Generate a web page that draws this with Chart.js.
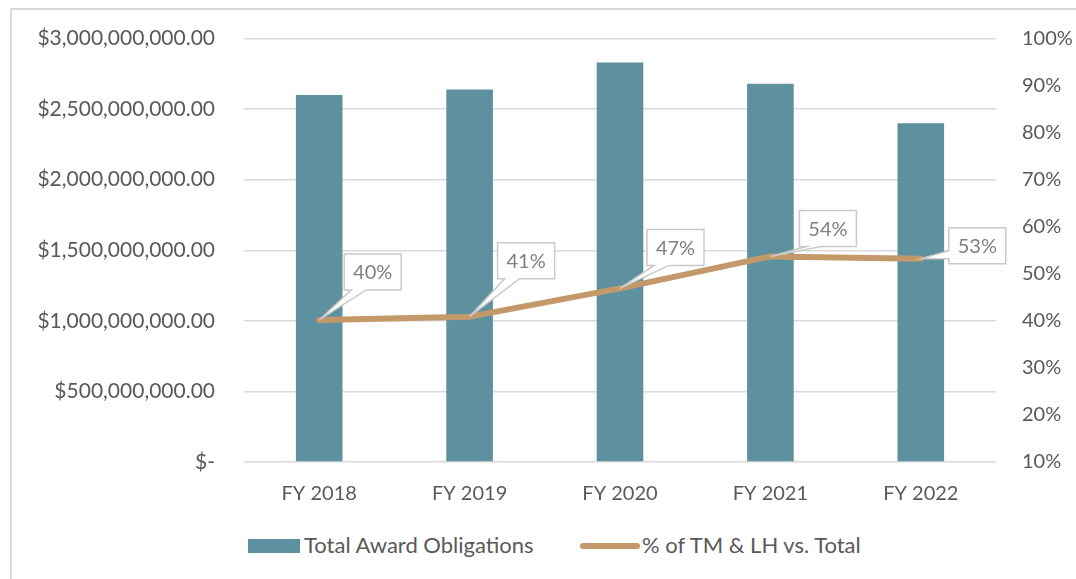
<!DOCTYPE html>
<html>
<head>
<meta charset="utf-8">
<script src="https://cdn.jsdelivr.net/npm/chart.js@4.4.1/dist/chart.umd.min.js"></script>
<style>
    body{margin:0;background:#fff;width:1076px;height:579px;overflow:hidden;position:relative;font-family:Lato,sans-serif;}
    .frame{position:absolute;left:10px;top:8px;width:1100px;height:620px;border-left:2px solid #d9d9d9;border-top:2px solid #d9d9d9;}
    .chart-box{position:absolute;left:12px;top:-3px;width:1064px;height:528px;}
    .legend{position:absolute;top:531px;left:0;width:1076px;height:28px;font-size:22px;color:#595959;}
    .legend .item{position:absolute;top:0;line-height:28px;white-space:nowrap;}
    .legend .sw{display:inline-block;vertical-align:middle;margin-right:4px;}
</style>
</head>
<body>
<div class="frame"></div>
<div class="chart-box"><canvas id="awards"></canvas></div>
<div class="legend">
    <div class="item" style="left:248px"><span class="sw" style="width:52px;height:14px;background:#5E91A0;margin-top:-3px"></span>Total Award Obligations</div>
    <div class="item" style="left:580px"><span class="sw" style="width:60px;height:6px;border-radius:3px;background:#C4996A;margin-top:-3px;margin-right:2px"></span>% of TM &amp; LH vs. Total</div>
</div>
<script>
// values
const categories = ['FY 2018', 'FY 2019', 'FY 2020', 'FY 2021', 'FY 2022'];
const awardObligations = [2600000000, 2640000000, 2830000000, 2680000000, 2400000000];
const pctTmLh = [40.2, 40.9, 46.9, 53.7, 53.2];

const barLabel = 'Total Award Obligations';
const lineLabel = '% of TM & LH vs. Total';

const textColor = '#595959';
const tickFont = {family: 'Lato', size: 20};

// where each callout box sits relative to its point (left edge, bottom edge)
const calloutPos = [[25, -30], [28, -38], [27, -23], [29, -10], [28, 5]];

function money(v){
    if(v === 0) return '$-';
    return '$' + v.toLocaleString('en-US', {minimumFractionDigits: 2, maximumFractionDigits: 2});
}

const callouts = {
    id: 'callouts',
    afterDatasetsDraw(chart){
        const ctx = chart.ctx;
        const meta = chart.getDatasetMeta(1);
        const data = chart.data.datasets[1].data;
        ctx.save();
        ctx.font = '20px Lato';
        meta.data.forEach(function(pt, i){
            const txt = Math.round(data[i]) + '%';
            const w = 57, h = 36;
            const left = pt.x + calloutPos[i][0];
            const bottom = pt.y + calloutPos[i][1];
            const top = bottom - h, right = left + w;
            ctx.beginPath();
            if(bottom < pt.y - 6){
                ctx.moveTo(left, top);
                ctx.lineTo(right, top);
                ctx.lineTo(right, bottom);
                ctx.lineTo(left + 22, bottom);
                ctx.lineTo(pt.x, pt.y);
                ctx.lineTo(left + 7, bottom);
                ctx.lineTo(left, bottom);
            } else {
                ctx.moveTo(left, top);
                ctx.lineTo(right, top);
                ctx.lineTo(right, bottom);
                ctx.lineTo(left, bottom);
                ctx.lineTo(left, bottom - 5);
                ctx.lineTo(pt.x, pt.y);
                ctx.lineTo(left, bottom - 13);
            }
            ctx.closePath();
            ctx.fillStyle = '#ffffff';
            ctx.fill();
            ctx.lineWidth = 1.5;
            ctx.strokeStyle = '#c9c9c9';
            ctx.stroke();
            ctx.fillStyle = '#7f7f7f';
            ctx.textAlign = 'center';
            ctx.textBaseline = 'middle';
            ctx.fillText(txt, left + w / 2, top + h / 2 + 1);
        });
        ctx.restore();
    }
};

const config = {
    data: {
        labels: categories,
        datasets: [
            {
                type: 'bar',
                label: barLabel,
                data: awardObligations,
                backgroundColor: '#5E91A0',
                yAxisID: 'y',
                categoryPercentage: 1,
                barPercentage: 0.31,
                order: 2
            },
            {
                type: 'line',
                label: lineLabel,
                data: pctTmLh,
                borderColor: '#C4996A',
                borderWidth: 6,
                borderCapStyle: 'round',
                borderJoinStyle: 'round',
                pointRadius: 0,
                tension: 0,
                yAxisID: 'y1',
                order: 1
            }
        ]
    },
    options: {
        responsive: true,
        maintainAspectRatio: false,
        animation: false,
        layout: {padding: {top: 0, bottom: 7, left: 0, right: 0}},
        plugins: {
            legend: {display: false},
            tooltip: {enabled: false},
            title: {display: false}
        },
        scales: {
            x: {
                grid: {display: false},
                border: {display: false},
                ticks: {color: textColor, font: tickFont, padding: 12, maxRotation: 0}
            },
            y: {
                position: 'left',
                min: 0,
                max: 3000000000,
                grid: {color: '#d9d9d9', lineWidth: 1.5, drawTicks: false},
                border: {display: false},
                ticks: {
                    stepSize: 500000000,
                    color: textColor,
                    font: {family: 'Lato', size: 21},
                    padding: 29,
                    callback: function(v){ return money(v); }
                },
                afterFit: function(s){ s.width = 232; }
            },
            y1: {
                position: 'right',
                min: 10,
                max: 100,
                grid: {display: false},
                border: {display: false},
                ticks: {
                    stepSize: 10,
                    color: textColor,
                    font: tickFont,
                    padding: 18,
                    callback: function(v){ return v + '%'; }
                },
                afterFit: function(s){ s.width = 80; }
            }
        }
    },
    plugins: [callouts]
};

new Chart(document.getElementById('awards').getContext('2d'), config);
</script>
</body>
</html>
